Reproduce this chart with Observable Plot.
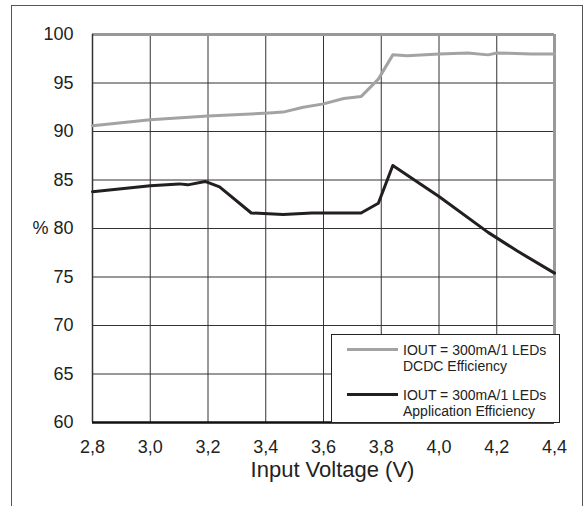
<!DOCTYPE html>
<html>
<head>
<meta charset="utf-8">
<script src="https://cdn.jsdelivr.net/npm/d3@7"></script>
<script src="https://cdn.jsdelivr.net/npm/@observablehq/plot@0.6"></script>
<style>
  html, body { margin: 0; padding: 0; background: #fff; }
  #wrap { position: relative; width: 584px; height: 506px; overflow: hidden; font-family: "Liberation Sans", Arial, sans-serif; }
  #outer { position: absolute; left: 11px; top: 5px; width: 570px; height: 560px; border: 1.5px solid #555; border-bottom: none; pointer-events: none; }
  #legend { position: absolute; left: 331px; top: 334px; width: 229px; height: 89px; border: 1.5px solid #222; background: #fff; box-sizing: border-box; }
  .item { position: absolute; left: 15px; }
  .swatch { position: absolute; left: 0; width: 51px; height: 3px; }
  .lbl { position: absolute; left: 56px; font-size: 14px; line-height: 16px; color: #222; white-space: nowrap; }
</style>
</head>
<body>
<div id="wrap">
  <div id="chart"></div>
  <div id="outer"></div>
  <div id="legend"></div>
</div>
<script>
// Data
const voltsDCDC = [2.8, 3.0, 3.2, 3.41, 3.46, 3.53, 3.6, 3.67, 3.73, 3.79, 3.84, 3.89, 4.0, 4.1, 4.17, 4.2, 4.32, 4.4];
const effDCDC   = [90.6, 91.2, 91.6, 91.9, 92.0, 92.5, 92.85, 93.4, 93.6, 95.4, 97.9, 97.8, 98.0, 98.1, 97.9, 98.1, 98.0, 98.0];
const voltsApp  = [2.8, 3.0, 3.1, 3.13, 3.19, 3.24, 3.35, 3.46, 3.56, 3.73, 3.79, 3.84, 4.0, 4.17, 4.27, 4.4];
const effApp    = [83.8, 84.4, 84.6, 84.5, 84.85, 84.3, 81.6, 81.45, 81.6, 81.6, 82.6, 86.5, 83.3, 79.6, 77.7, 75.4];
const xTicks = [2.8, 3.0, 3.2, 3.4, 3.6, 3.8, 4.0, 4.2, 4.4];
const yTicks = [60, 65, 70, 75, 80, 85, 90, 95, 100];
const xLabel = "Input Voltage (V)";
const seriesNames = [["IOUT = 300mA/1 LEDs", "DCDC Efficiency"], ["IOUT = 300mA/1 LEDs", "Application Efficiency"]];
const seriesColors = ["#a3a3a3", "#231f20"];

const dcdc = voltsDCDC.map((v, i) => ({v, e: effDCDC[i]}));
const app = voltsApp.map((v, i) => ({v, e: effApp[i]}));

const chart = Plot.plot({
  width: 584,
  height: 506,
  marginLeft: 92,
  marginRight: 30,
  marginTop: 34,
  marginBottom: 84,
  x: {domain: [2.8, 4.4]},
  y: {domain: [60, 100]},
  style: {fontFamily: "'Liberation Sans', Arial, sans-serif", fontSize: "18px", color: "#222", background: "transparent"},
  marks: [
    Plot.gridX(xTicks, {stroke: "#333", strokeOpacity: 1, strokeWidth: 1}),
    Plot.gridY(yTicks, {stroke: "#333", strokeOpacity: 1, strokeWidth: 1}),
    Plot.ruleY([100], {stroke: "#999", strokeWidth: 3}),
    Plot.ruleX([4.4], {stroke: "#999", strokeWidth: 3}),
    Plot.ruleX([2.8], {stroke: "#333", strokeWidth: 1.5}),
    Plot.ruleY([60], {stroke: "#111", strokeWidth: 2.5}),
    Plot.line(dcdc, {x: "v", y: "e", stroke: seriesColors[0], strokeWidth: 3}),
    Plot.line(app, {x: "v", y: "e", stroke: seriesColors[1], strokeWidth: 3}),
    Plot.axisX(xTicks, {tickSize: 0, tickPadding: 18, tickFormat: d => d.toFixed(1).replace(".", ","), label: null}),
    Plot.axisY(yTicks, {tickSize: 0, tickPadding: 19, tickFormat: d => d === 80 ? "% 80" : String(d), label: null}),
    Plot.text([xLabel], {frameAnchor: "bottom", dy: 54, dx: 9, fontSize: 22, fill: "#222"})
  ]
});
document.getElementById("chart").appendChild(chart);

const legend = document.getElementById("legend");
const tops = [7, 52];
seriesNames.forEach((lines, i) => {
  const item = document.createElement("div");
  item.className = "item";
  item.style.top = tops[i] + "px";
  const sw = document.createElement("div");
  sw.className = "swatch";
  sw.style.background = seriesColors[i];
  sw.style.top = "6px";
  item.appendChild(sw);
  const lb = document.createElement("div");
  lb.className = "lbl";
  lb.innerHTML = lines.join("<br>");
  item.appendChild(lb);
  legend.appendChild(item);
});
</script>
</body>
</html>
